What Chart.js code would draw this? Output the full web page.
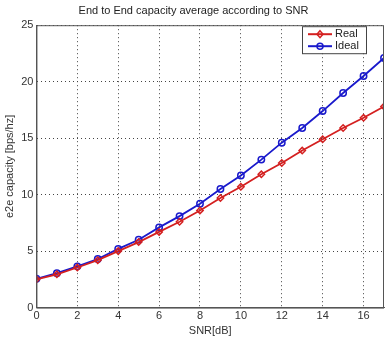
<!DOCTYPE html>
<html>
<head>
<meta charset="utf-8">
<script src="https://cdn.jsdelivr.net/npm/chart.js@4/dist/chart.umd.min.js"></script>
<style>
  html, body { margin: 0; padding: 0; background: #fff; }
  #wrap { width: 385px; height: 338px; }
</style>
</head>
<body>
<div id="wrap"><canvas id="capChart" width="385" height="338"></canvas></div>
<script>
// SNR in dB
var snr = [0, 1, 2, 3, 4, 5, 6, 7, 8, 9, 10, 11, 12, 13, 14, 15, 16, 17];
// capacity values
var realCap = [2.5, 2.95, 3.55, 4.2, 5.0, 5.8, 6.7, 7.6, 8.6, 9.7, 10.7, 11.8, 12.8, 13.9, 14.9, 15.9, 16.8, 17.8];
var idealCap = [2.55, 3.05, 3.65, 4.3, 5.2, 6.0, 7.1, 8.1, 9.2, 10.5, 11.7, 13.1, 14.6, 15.9, 17.4, 19.0, 20.5, 22.1];
var xTicks = [0, 2, 4, 6, 8, 10, 12, 14, 16];
var yTicks = [0, 5, 10, 15, 20, 25];
var seriesNames = ['Real', 'Ideal'];

var FONT = 'Liberation Sans, Arial, sans-serif';

function toPoints(ys) {
  return snr.map(function (x, i) { return { x: x, y: ys[i] }; });
}

// box around the axes + legend inside top right, matlab style
var boxPlugin = {
  id: 'boxLegend',
  afterDraw: function (chart) {
    var ctx = chart.ctx;
    var a = chart.chartArea;
    ctx.save();
    ctx.strokeStyle = '#555';
    ctx.lineWidth = 1;
    ctx.strokeRect(a.left + 0.5, a.top + 0.5, a.right - a.left - 1, a.bottom - a.top);

    var lx = a.right - 82, ly = a.top + 1, lw = 64, lh = 27;
    ctx.fillStyle = '#fff';
    ctx.fillRect(lx, ly, lw, lh);
    ctx.strokeStyle = '#444';
    ctx.strokeRect(lx + 0.5, ly + 0.5, lw, lh);
    ctx.font = '11px ' + FONT;
    ctx.textBaseline = 'middle';
    chart.data.datasets.forEach(function (ds, i) {
      var y = ly + 8 + i * 12;
      ctx.strokeStyle = ds.borderColor;
      ctx.lineWidth = 2;
      ctx.beginPath();
      ctx.moveTo(lx + 6, y);
      ctx.lineTo(lx + 30, y);
      ctx.stroke();
      ctx.lineWidth = 1.5;
      ctx.beginPath();
      if (i === 0) {
        ctx.moveTo(lx + 18, y - 3.5); ctx.lineTo(lx + 21, y);
        ctx.lineTo(lx + 18, y + 3.5); ctx.lineTo(lx + 15, y); ctx.closePath();
      } else {
        ctx.arc(lx + 18, y, 3, 0, Math.PI * 2);
      }
      ctx.stroke();
      ctx.fillStyle = '#222';
      ctx.fillText(ds.label, lx + 33, y);
    });
    ctx.restore();
  }
};

var ctx = document.getElementById('capChart').getContext('2d');
var capChart = new Chart(ctx, {
  type: 'line',
  data: {
    datasets: [{
      label: seriesNames[0],
      data: toPoints(realCap),
      borderColor: '#d42020',
      backgroundColor: 'rgba(0,0,0,0)',
      borderWidth: 1.8,
      pointStyle: 'rectRot',
      pointRadius: 3.2,
      pointBorderWidth: 1.5,
      pointBorderColor: '#d42020',
      pointBackgroundColor: 'rgba(0,0,0,0)'
    }, {
      label: seriesNames[1],
      data: toPoints(idealCap),
      borderColor: '#1a1acc',
      backgroundColor: 'rgba(0,0,0,0)',
      borderWidth: 1.8,
      pointStyle: 'circle',
      pointRadius: 3.2,
      pointBorderWidth: 1.5,
      pointBorderColor: '#1a1acc',
      pointBackgroundColor: 'rgba(0,0,0,0)'
    }]
  },
  options: {
    responsive: false,
    animation: false,
    layout: { autoPadding: false, padding: { top: 2, right: 1, left: 3, bottom: 0 } },
    plugins: {
      legend: { display: false },
      tooltip: { enabled: false },
      title: {
        display: true,
        text: 'End to End capacity average according to SNR',
        color: '#222',
        font: { family: FONT, size: 11, weight: 'normal' },
        padding: { top: 2, bottom: 8 }
      }
    },
    scales: {
      x: {
        type: 'linear',
        min: 0,
        max: 17,
        afterBuildTicks: function (axis) {
          axis.ticks = xTicks.map(function (v) { return { value: v }; });
        },
        // last tick label (16) is not at the edge, so no extra room needed
        afterFit: function (axis) { axis.paddingRight = 0; },
        grid: { color: '#444', drawTicks: false, lineWidth: 1 },
        border: { display: true, color: '#555', dash: [1, 3] },
        ticks: { color: '#333', padding: 2, maxRotation: 0, font: { family: FONT, size: 11 } },
        title: { display: true, text: 'SNR[dB]', color: '#333', padding: { top: 0, bottom: 0 }, font: { family: FONT, size: 11 } }
      },
      y: {
        min: 0,
        max: 25,
        afterBuildTicks: function (axis) {
          axis.ticks = yTicks.map(function (v) { return { value: v }; });
        },
        grid: { color: '#444', drawTicks: false, lineWidth: 1 },
        border: { display: true, color: '#555', dash: [1, 3] },
        ticks: { color: '#333', padding: 3, font: { family: FONT, size: 11 } },
        title: { display: true, text: 'e2e capacity [bps/hz]', color: '#333', padding: { top: 0, bottom: 2 }, font: { family: FONT, size: 11 } }
      }
    }
  },
  plugins: [boxPlugin]
});
</script>
</body>
</html>
